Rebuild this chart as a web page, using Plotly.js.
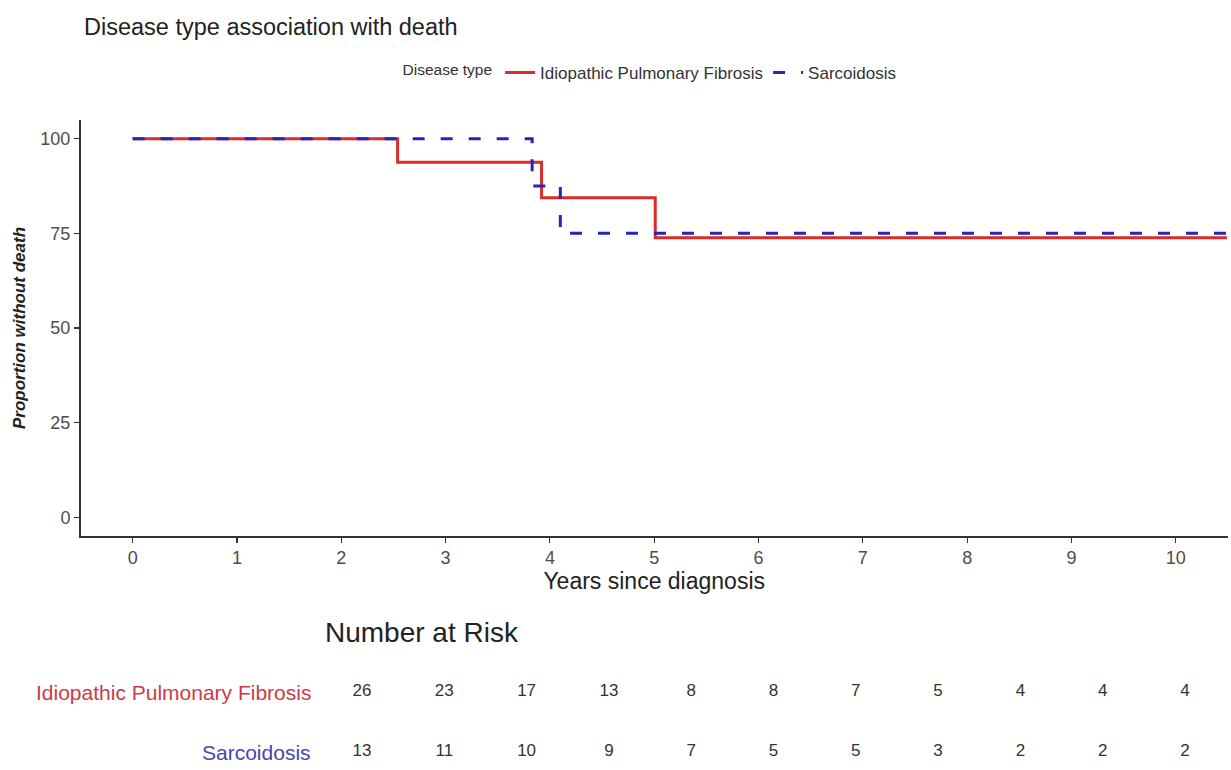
<!DOCTYPE html>
<html>
<head>
<meta charset="utf-8">
<script src="https://cdn.plot.ly/plotly-3.0.1.min.js"></script>
<style>
  html, body { margin: 0; padding: 0; background: #ffffff; }
  #chart { width: 1231px; height: 770px; }
</style>
</head>
<body>
<div id="chart"></div>
<script>
// Kaplan-Meier survival estimates (percent without death) by disease type
const ipfTime = [0, 2.54, 3.92, 5.01, 10.49];
const ipfSurv = [100, 93.75, 84.375, 73.83, 73.83];
const sarcTime = [0, 3.83, 4.10, 10.49];
const sarcSurv = [100, 87.5, 75, 75];

// Number at risk table
const riskYears = [0, 1, 2, 3, 4, 5, 6, 7, 8, 9, 10];
const ipfAtRisk = [26, 23, 17, 13, 8, 8, 7, 5, 4, 4, 4];
const sarcAtRisk = [13, 11, 10, 9, 7, 5, 5, 3, 2, 2, 2];
const groupNames = ['Idiopathic Pulmonary Fibrosis', 'Sarcoidosis'];

const xTicks = [0, 1, 2, 3, 4, 5, 6, 7, 8, 9, 10];
const yTicks = [0, 25, 50, 75, 100];

const W = 1231, H = 770;
const px = v => v / W;
const py = v => 1 - v / H;

const FONT = 'Liberation Sans, Arial, Helvetica, sans-serif';
const RED = '#dc2b2b';
const BLUE = '#2525b8';

const traces = [
  {
    x: ipfTime, y: ipfSurv, name: groupNames[0],
    type: 'scatter', mode: 'lines',
    line: { shape: 'hv', color: RED, width: 3 },
    xaxis: 'x', yaxis: 'y', hoverinfo: 'x+y'
  },
  {
    x: sarcTime, y: sarcSurv, name: groupNames[1],
    type: 'scatter', mode: 'lines',
    line: { shape: 'hv', color: BLUE, width: 3, dash: '12px,16px' },
    xaxis: 'x', yaxis: 'y', hoverinfo: 'x+y'
  },
  {
    x: riskYears, y: riskYears.map(() => 1), text: ipfAtRisk.map(String),
    type: 'scatter', mode: 'text', showlegend: false, hoverinfo: 'skip',
    textfont: { family: FONT, size: 17, color: '#333333' },
    xaxis: 'x2', yaxis: 'y2', cliponaxis: false
  },
  {
    x: riskYears, y: riskYears.map(() => 0), text: sarcAtRisk.map(String),
    type: 'scatter', mode: 'text', showlegend: false, hoverinfo: 'skip',
    textfont: { family: FONT, size: 17, color: '#333333' },
    xaxis: 'x2', yaxis: 'y2', cliponaxis: false
  }
];

const layout = {
  width: W, height: H,
  margin: { l: 0, r: 0, t: 0, b: 0, pad: 0 },
  paper_bgcolor: '#ffffff', plot_bgcolor: '#ffffff',
  font: { family: FONT, color: '#333333' },
  title: {
    text: 'Disease type association with death',
    x: px(84), xanchor: 'left', xref: 'container',
    y: py(27), yanchor: 'middle', yref: 'container',
    font: { family: FONT, size: 23.5, color: '#222222' }
  },
  showlegend: true,
  legend: {
    orientation: 'h',
    x: px(651), xanchor: 'center',
    y: py(73), yanchor: 'middle',
    font: { family: FONT, size: 17, color: '#333333' },
    title: { text: 'Disease type', side: 'left', font: { family: FONT, size: 15.5, color: '#333333' } },
    bgcolor: 'rgba(0,0,0,0)'
  },
  xaxis: {
    domain: [px(80.5), px(1227.9)],
    range: [-0.5, 10.5],
    tickvals: xTicks,
    ticks: 'outside', ticklen: 5, tickcolor: '#333333', tickwidth: 1.2,
    showline: true, linecolor: '#333333', linewidth: 1.5,
    showgrid: false, zeroline: false,
    tickfont: { family: FONT, size: 18, color: '#4d4d4d' },
    title: { text: 'Years since diagnosis', standoff: 4, font: { family: FONT, size: 23, color: '#222222' } },
    anchor: 'y', fixedrange: true
  },
  yaxis: {
    domain: [py(536.3), py(119.7)],
    range: [-5, 105],
    tickvals: yTicks,
    ticks: 'outside', ticklen: 5, tickcolor: '#333333', tickwidth: 1.2,
    showline: true, linecolor: '#333333', linewidth: 1.5,
    showgrid: false, zeroline: false,
    tickfont: { family: FONT, size: 18, color: '#4d4d4d' },
    title: { text: 'Proportion without death', standoff: 10, font: { family: FONT, size: 17, color: '#222222', style: 'italic', weight: 'bold' } },
    anchor: 'x', fixedrange: true
  },
  xaxis2: {
    domain: [px(362), px(1185)],
    range: [0, 10],
    visible: false, anchor: 'y2', fixedrange: true
  },
  yaxis2: {
    domain: [py(752), py(692)],
    range: [0, 1],
    visible: false, anchor: 'x2', fixedrange: true
  },
  annotations: [
    {
      text: 'Number at Risk', xref: 'paper', yref: 'paper',
      x: px(323), xanchor: 'left', y: py(632), yanchor: 'middle',
      showarrow: false, font: { family: FONT, size: 28, color: '#222222' }
    },
    {
      text: groupNames[0], xref: 'paper', yref: 'y2',
      x: px(313), xanchor: 'right', y: 1, yanchor: 'middle',
      showarrow: false, font: { family: FONT, size: 21, color: '#cc3b45' }
    },
    {
      text: groupNames[1], xref: 'paper', yref: 'y2',
      x: px(313), xanchor: 'right', y: 0, yanchor: 'middle',
      showarrow: false, font: { family: FONT, size: 21, color: '#4646b2' }
    }
  ]
};

Plotly.newPlot('chart', traces, layout, { displayModeBar: false, staticPlot: true });
</script>
</body>
</html>
